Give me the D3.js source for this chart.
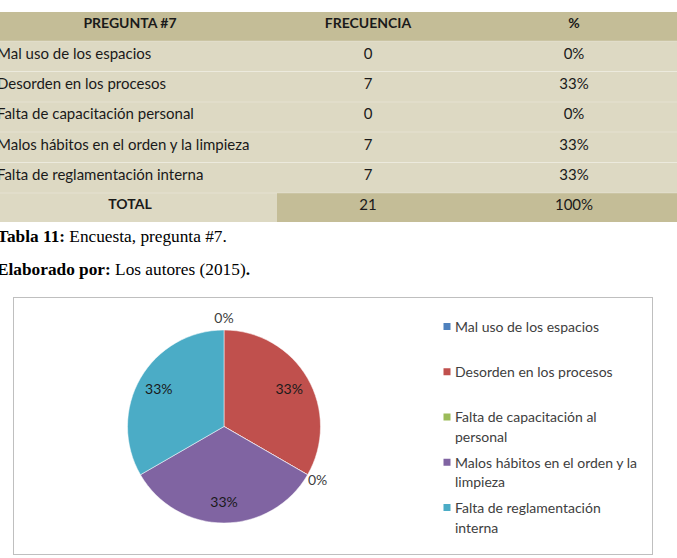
<!DOCTYPE html>
<html>
<head>
<meta charset="utf-8">
<script src="https://cdn.jsdelivr.net/npm/d3@7"></script>
<style>
  html, body { margin: 0; padding: 0; background: #fff; }
  svg { display: block; }
</style>
</head>
<body>
<svg id="chart" width="677" height="558"></svg>
<script>
// ---- Data ----
const tableHeaders = ["PREGUNTA #7", "FRECUENCIA", "%"];
const tableLabels = [
  "Mal uso de los espacios",
  "Desorden en los procesos",
  "Falta de capacitación personal",
  "Malos hábitos en el orden y la limpieza",
  "Falta de reglamentación interna"
];
const frequencies = [0, 7, 0, 7, 7];
const percentages = ["0%", "33%", "0%", "33%", "33%"];
const totalRow = ["TOTAL", "21", "100%"];
const legendLabels = [
  "Mal uso de los espacios",
  "Desorden en los procesos",
  "Falta de capacitación al personal",
  "Malos hábitos en el orden y la limpieza",
  "Falta de reglamentación interna"
];
const sliceColors = ["#4f81bd", "#c0504d", "#9bbb59", "#8064a2", "#4bacc6"];
const captionTable = ["Tabla 11:", " Encuesta, pregunta #7."];
const captionAuthor = ["Elaborado por:", " Los autores (2015)", "."];

// ---- Setup ----
const svg = d3.select("#chart");
const sans = "Lato, 'Open Sans', sans-serif";
const serif = "'Liberation Serif', 'Times New Roman', serif";

// ---- Table ----
const colEdges = [-17, 277, 459, 689];
const rowEdges = [12, 41, 71.5, 102, 132, 162.5, 193, 222];
const headerFill = "#c4bd97", bodyFill = "#ddd9c3";
const tbl = svg.append("g");

const rows = [tableHeaders]
  .concat(tableLabels.map((l, i) => [l, String(frequencies[i]), percentages[i]]))
  .concat([totalRow]);

rows.forEach((r, ri) => {
  const y0 = rowEdges[ri], y1 = rowEdges[ri + 1];
  r.forEach((cell, ci) => {
    let fill = bodyFill;
    if (ri === 0) fill = headerFill;
    if (ri === rows.length - 1 && ci > 0) fill = headerFill;
    tbl.append("rect")
      .attr("x", colEdges[ci]).attr("y", y0)
      .attr("width", colEdges[ci + 1] - colEdges[ci]).attr("height", y1 - y0)
      .attr("fill", fill);
    const bold = ri === 0 || (ri === rows.length - 1 && ci === 0);
    const leftAlign = ci === 0 && ri > 0 && ri < rows.length - 1;
    tbl.append("text")
      .attr("x", leftAlign ? -3 : (colEdges[ci] + colEdges[ci + 1]) / 2)
      .attr("y", (y0 + y1) / 2 - 3)
      .attr("dy", "0.35em")
      .attr("text-anchor", leftAlign ? "start" : "middle")
      .attr("font-family", sans)
      .attr("font-size", bold ? 14 : 15)
      .attr("font-weight", bold ? "bold" : "normal")
      .attr("fill", "#1a1a1a")
      .text(cell);
  });
});
// faint white separators
rowEdges.slice(1, -1).forEach(y => {
  tbl.append("line").attr("x1", colEdges[0]).attr("x2", colEdges[3])
    .attr("y1", y).attr("y2", y).attr("stroke", "#ffffff").attr("stroke-opacity", 0.25);
});

// ---- Captions ----
function caption(parts, y) {
  const t = svg.append("text").attr("x", -3).attr("y", y)
    .attr("font-family", serif).attr("font-size", 17.3).attr("fill", "#000");
  parts.forEach((p, i) => {
    t.append("tspan").attr("font-weight", (i === 0 || p === ".") ? "bold" : "normal").text(p);
  });
}
caption(captionTable, 242);
caption(captionAuthor, 275);

// ---- Chart box ----
svg.append("rect").attr("x", 13.5).attr("y", 297.5).attr("width", 639).attr("height", 257)
  .attr("fill", "#fff").attr("stroke", "#bfbfbf").attr("stroke-width", 1);

// ---- Pie ----
const cx = 224, cy = 426.5, radius = 96.5;
const pie = d3.pie().sort(null).value(d => d.v)(frequencies.map((v, i) => ({ v, i })));
const arc = d3.arc().innerRadius(0).outerRadius(radius);
const g = svg.append("g").attr("transform", `translate(${cx},${cy})`);
g.selectAll("path").data(pie).join("path")
  .attr("d", arc)
  .attr("fill", d => sliceColors[d.data.i])
  .attr("stroke", "#fff").attr("stroke-width", 0.5);

const total = d3.sum(frequencies);
const inArc = d3.arc().innerRadius(radius * 0.78).outerRadius(radius * 0.78);
const outArc = d3.arc().innerRadius(radius * 1.12).outerRadius(radius * 1.12);
g.selectAll("text.lbl").data(pie).join("text")
  .attr("class", "lbl")
  .attr("transform", d => `translate(${(d.data.v === 0 ? outArc : inArc).centroid(d)})`)
  .attr("text-anchor", "middle").attr("dy", "0.35em")
  .attr("font-family", sans).attr("font-size", 14)
  .attr("fill", d => d.data.v === 0 ? "#404040" : "#1a1a1a")
  .text(d => Math.round(d.data.v / total * 100) + "%");

// ---- Legend ----
const lg = svg.append("g");
const legendX = 455, legendMaxW = 186;
const legendY = d3.scalePoint().domain(d3.range(legendLabels.length)).range([327, 508]);
legendLabels.forEach((lab, i) => {
  const y = legendY(i);
  lg.append("rect").attr("x", legendX - 11.5).attr("y", y - 4).attr("width", 7).attr("height", 7)
    .attr("fill", sliceColors[i]);
  const t = lg.append("text").attr("x", legendX).attr("y", y)
    .attr("font-family", sans).attr("font-size", 14).attr("fill", "#404040");
  const words = lab.split(" ");
  let line = [], lineNo = 0;
  let ts = t.append("tspan").attr("x", legendX).attr("dy", "0.35em");
  words.forEach(w => {
    line.push(w);
    ts.text(line.join(" "));
    if (ts.node().getComputedTextLength() > legendMaxW && line.length > 1) {
      line.pop();
      ts.text(line.join(" "));
      line = [w];
      lineNo++;
      ts = t.append("tspan").attr("x", legendX).attr("y", y).attr("dy", (0.35 + lineNo * 1.4) + "em").text(w);
    }
  });
});
</script>
</body>
</html>
